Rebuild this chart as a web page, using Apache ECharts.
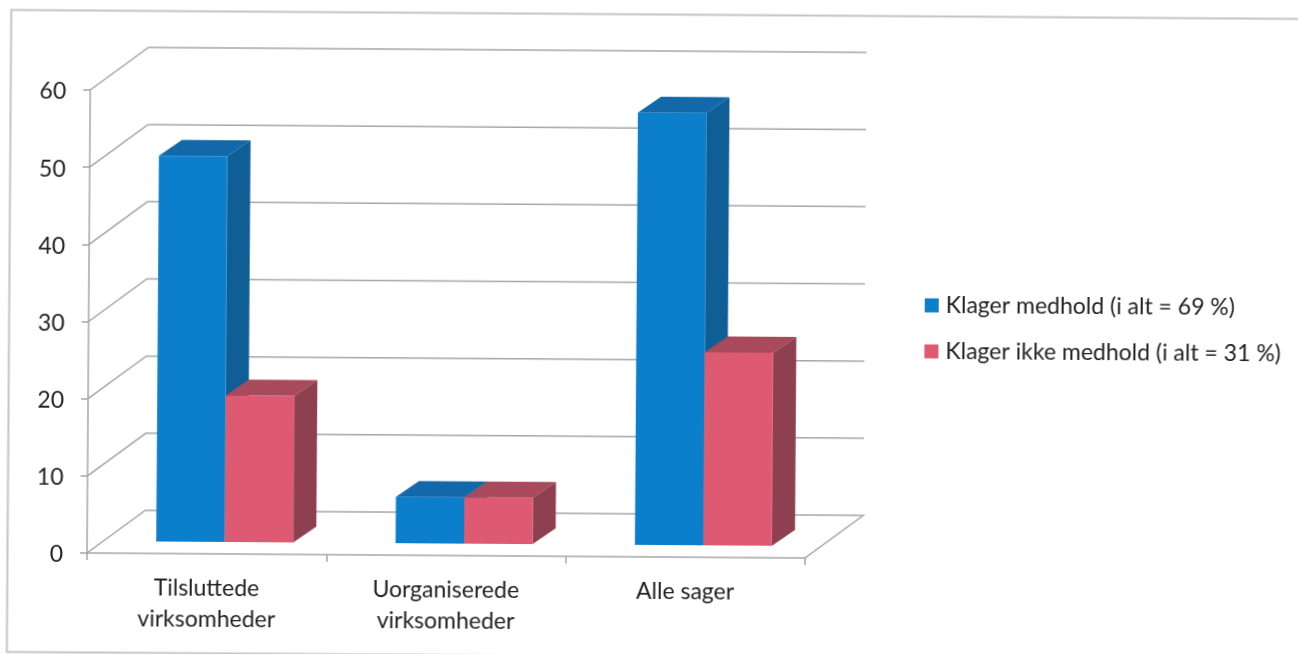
<!DOCTYPE html>
<html>
<head>
<meta charset="utf-8">
<title>Klager medhold</title>
<style>
html, body { margin: 0; padding: 0; background: #fff; overflow: hidden; width: 1298px; height: 654px; }
/* the reference is a slightly skewed scan, so the whole chart is turned around the axis origin */
#c1 { width: 1400px; height: 700px; transform-origin: 87px 553px; transform: rotate(0.4deg); }
</style>
<script src="https://cdn.jsdelivr.net/npm/echarts@6/dist/echarts.min.js"></script>
</head>
<body>
<div id="c1"></div>
<script>
var categories = ['Tilsluttede\nvirksomheder', 'Uorganiserede\nvirksomheder', 'Alle sager'];
var yTicks = [0, 10, 20, 30, 40, 50, 60];
var medhold = [50, 6, 56];
var ikkeMedhold = [19, 6, 25];
var medholdName = 'Klager medhold (i alt = 69 %)';
var ikkeMedholdName = 'Klager ikke medhold (i alt = 31 %)';

var fontName = 'Lato';
var fontSize = 23;
var textColor = '#222222';
var lineColor = '#a6a6a6';
var wallDx = 58, wallDy = -43;    // depth of the floor
var barDx = 23, barDy = -16;      // depth of a bar
var barWidth = 68.5;
var barShiftX = 18, barShiftY = -12;  // bars stand a little way into the floor

function poly(points, fill) {
    return { type: 'polygon', shape: { points: points }, style: { fill: fill } };
}

function barRenderer(slot, front, top, side) {
    return function (params, api) {
        var i = api.value(0);
        var base = api.coord([i, 0]);
        var head = api.coord([i, api.value(1)]);
        var x0 = base[0] + barShiftX + (slot - 1) * barWidth;
        var x1 = x0 + barWidth;
        var y0 = base[1] + barShiftY;
        var y1 = head[1] + barShiftY;
        return {
            type: 'group',
            children: [
                poly([[x0, y1], [x1, y1], [x1 + barDx, y1 + barDy], [x0 + barDx, y1 + barDy]], top),
                poly([[x1, y0], [x1 + barDx, y0 + barDy], [x1 + barDx, y1 + barDy], [x1, y1]], side),
                poly([[x0, y0], [x1, y0], [x1, y1], [x0, y1]], front)
            ]
        };
    };
}

function wallRenderer(params, api) {
    var p = api.coord([0, api.value(1)]);
    var sys = params.coordSys;
    var left = sys.x, right = sys.x + sys.width;
    var pts = [[left, p[1]], [left + wallDx, p[1] + wallDy], [right + wallDx, p[1] + wallDy]];
    if (api.value(1) === 0) {
        pts.push([right, p[1]]);
    }
    return {
        type: 'polyline',
        shape: { points: pts },
        style: { stroke: lineColor, lineWidth: 1.5, fill: 'none' }
    };
}

var dom = document.getElementById('c1');
var myChart = echarts.init(dom);

var option = {
    animation: false,
    backgroundColor: '#ffffff',
    grid: { left: 87, top: 90, width: 718, height: 463 },
    legend: {
        data: [medholdName, ikkeMedholdName],
        orient: 'vertical',
        left: 923,
        top: 288,
        padding: 0,
        icon: 'rect',
        itemWidth: 14,
        itemHeight: 14,
        itemGap: 23,
        textStyle: { fontFamily: fontName, fontSize: fontSize, color: textColor, padding: [0, 0, 0, 2] }
    },
    graphic: [{
        type: 'rect',
        shape: { x: 7.5, y: 10.5, width: 1600, height: 642 },
        style: { fill: 'none', stroke: '#c4c4c4', lineWidth: 2 },
        silent: true
    }],
    xAxis: {
        type: 'category',
        data: categories,
        axisLine: { lineStyle: { color: lineColor, width: 1.5 } },
        axisTick: { show: true, length: 7, lineStyle: { color: lineColor, width: 1.5 } },
        axisLabel: { fontFamily: fontName, fontSize: fontSize, color: textColor, lineHeight: 31, margin: 19 }
    },
    yAxis: {
        type: 'value',
        min: 0,
        max: 60,
        interval: 10,
        splitLine: { show: false },
        axisLine: { show: true, lineStyle: { color: lineColor, width: 1.5 } },
        axisTick: { show: true, length: 7, lineStyle: { color: lineColor, width: 1.5 } },
        axisLabel: { fontFamily: fontName, fontSize: fontSize, color: textColor, margin: 24, verticalAlign: 'top', lineHeight: 4 }
    },
    series: [
        {
            name: 'walls',
            type: 'custom',
            renderItem: wallRenderer,
            encode: { x: 0, y: 1 },
            data: yTicks.map(function (v) { return [0, v]; }),
            silent: true
        },
        {
            name: medholdName,
            type: 'custom',
            renderItem: barRenderer(0, '#0b7fcb', '#1268a8', '#0f5e96'),
            encode: { x: 0, y: 1 },
            itemStyle: { color: '#0b7fcb' },
            data: medhold.map(function (v, i) { return [i, v]; })
        },
        {
            name: ikkeMedholdName,
            type: 'custom',
            renderItem: barRenderer(1, '#de5a72', '#a84a5c', '#8f4050'),
            encode: { x: 0, y: 1 },
            itemStyle: { color: '#de5a72' },
            data: ikkeMedhold.map(function (v, i) { return [i, v]; })
        }
    ]
};

myChart.setOption(option, true);
</script>
</body>
</html>
